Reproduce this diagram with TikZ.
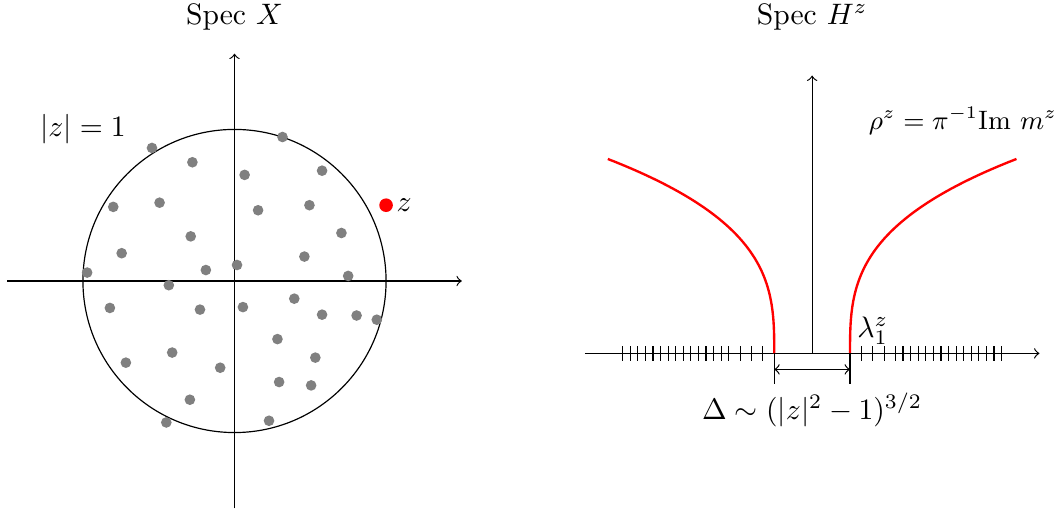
\documentclass[tikz,border=0pt]{standalone}
\usepackage{amsmath}

\begin{document}
\begin{tikzpicture}[>=to]
  \useasboundingbox (-2.785,-2.767) rectangle (9.792,3.337);
  % espectro de X: ejes y circulo unidad
  \draw[->] (-2.7,0)--(2.7,0);
  \draw[->] (0,-2.7)--(0,2.7);
  \draw (0,0) circle(1.8);
  \foreach \x/\y in {0.57/1.71,-0.98/1.58,-0.50/1.41,0.12/1.26,1.04/1.31,-1.44/0.88,-0.89/0.93,
    0.28/0.84,0.89/0.90,1.27/0.57,-0.52/0.53,-1.34/0.33,0.83/0.29,-1.75/0.10,-0.34/0.13,0.03/0.19,
    1.35/0.06,-0.78/-0.05,-1.48/-0.32,-0.41/-0.34,0.10/-0.31,0.71/-0.21,1.04/-0.40,1.45/-0.41,
    1.69/-0.46,0.51/-0.69,0.96/-0.91,-0.74/-0.85,-1.29/-0.97,-0.17/-1.03,0.53/-1.20,0.91/-1.24,
    -0.53/-1.41,-0.81/-1.68,0.41/-1.66}
    \fill[gray] (\x,\y) circle(1.8pt);
  \coordinate (z) at (1.8,0.9);
  \fill[red] (z) circle(2.3pt);
  \node[right] (zlab) at (z) {$z$};
  \node (unit) at (-1.8,1.8) {$|z|=1$};
  \node (specX) at (0,3.14) {Spec $X$};
  % espectro de H^z
  \begin{scope}[shift={(6.86,-0.86)}]
    \draw[->] (-2.7,0)--(2.7,0);
    \draw[->] (0,0)--(0,3.3);
    \foreach \t in {0.585,0.72,0.855,0.99,1.08,...,2.26}
      {\draw (\t,-0.085)--(\t,0.085); \draw (-\t,-0.085)--(-\t,0.085);}
    % densidad rho^z con borde cubico
    \draw[thick,red] plot[domain=0:1.255,samples=60] ({0.45+\x*\x*\x},{1.84*\x});
    \draw[thick,red] plot[domain=0:1.255,samples=60] ({-0.45-\x*\x*\x},{1.84*\x});
    % hueco espectral
    \coordinate (gl) at (-0.45,0);
    \coordinate (gr) at (0.45,0);
    \draw (gl)--++(0,-0.365);
    \draw (gr)--++(0,-0.365);
    \draw[<->] ([yshift=-0.19cm]gl)--([yshift=-0.19cm]gr);
    \node (specH) at (0,4.0) {Spec $H^z$};
    \node (rho) at (1.79,2.76) {\small $\rho^z=\pi^{-1}\mathrm{Im}\ m^z$};
    \node[inner sep=1pt] (lam) at (0.72,0.27) {$\lambda_1^z$};
    \node (delta) at (0,-0.67) {$\Delta\sim(|z|^2-1)^{3/2}$};
  \end{scope}
\end{tikzpicture}
\end{document}
